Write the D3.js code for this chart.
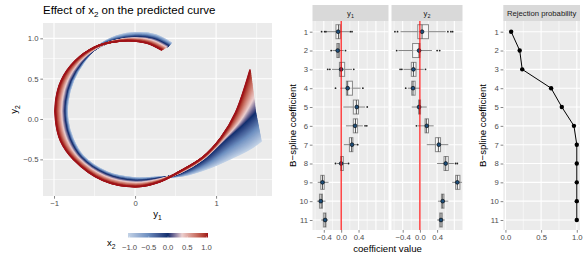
<!DOCTYPE html>
<html>
<head>
<meta charset="utf-8">
<script src="https://d3js.org/d3.v7.min.js"></script>
<title>Effect of x2 and B-spline coefficients</title>
<style>
body { margin: 0; background: #fff; }
#root { font-family: "Liberation Sans", Arial, sans-serif; }
</style>
</head>
<body>
<svg id="root" width="585" height="260"></svg>

<script>
// predicted curves (y1, y2), for x2 = -1, 0 and 1
let curveLow = [
	[0.45, 0.94], [0.26, 1.04], [0.04, 1.07], [-0.22, 1.03], [-0.46, 0.90], [-0.63, 0.71],
	[-0.76, 0.48], [-0.83, 0.22], [-0.83, -0.02], [-0.77, -0.24], [-0.64, -0.46], [-0.34, -0.66],
	[0.0, -0.73], [0.30, -0.72], [0.60, -0.70], [0.93, -0.60], [1.20, -0.48], [1.42, -0.37], [1.56, -0.27]
]
let curveMid = [
	[0.41, 0.90], [0.22, 0.99], [0.0, 1.01], [-0.25, 0.97], [-0.47, 0.88], [-0.66, 0.71],
	[-0.80, 0.48], [-0.87, 0.22], [-0.87, -0.02], [-0.81, -0.25], [-0.67, -0.48], [-0.36, -0.69],
	[0.0, -0.77], [0.30, -0.74], [0.55, -0.67], [0.84, -0.50], [1.10, -0.26], [1.32, -0.07], [1.49, 0.09]
]
let curveHigh = [
	[0.33, 0.855], [0.15, 0.94], [-0.08, 0.97], [-0.30, 0.95], [-0.50, 0.89], [-0.74, 0.72],
	[-0.91, 0.48], [-0.98, 0.22], [-0.98, -0.02], [-0.92, -0.27], [-0.76, -0.50], [-0.40, -0.76],
	[0.0, -0.84], [0.30, -0.78], [0.55, -0.65], [0.84, -0.47], [1.06, -0.23], [1.24, 0.08], [1.42, 0.615]
]
let legendTicks = [-1, -0.5, 0, 0.5, 1]

// boxplots of estimated B-spline coefficients
let coefs = [1, 2, 3, 4, 5, 6, 7, 8, 9, 10, 11]

let y1Lo  = [-0.33, -0.20, -0.21, -0.02, 0.05, 0.11, 0.06, -0.10, -0.54, -0.56, -0.46]
let y1Q1  = [-0.12, -0.10, -0.04, 0.12, 0.28, 0.28, 0.19, -0.01, -0.47, -0.50, -0.41]
let y1Med = [-0.06, -0.07, 0.00, 0.15, 0.35, 0.33, 0.24, 0.01, -0.43, -0.46, -0.37]
let y1Q3  = [-0.02, -0.04, 0.08, 0.26, 0.40, 0.38, 0.27, 0.05, -0.39, -0.43, -0.35]
let y1Hi  = [0.18, 0.06, 0.25, 0.45, 0.55, 0.50, 0.36, 0.15, -0.29, -0.36, -0.30]
let y1Out = [[-0.45, -0.38, -0.35, 0.21, 0.25], [-0.23, 0.10], [-0.31, -0.26, 0.29], [-0.13, 0.50], [0.60],
	[0.55, 0.59], [0.38], [-0.13, 0.17], [], [], []]
let y1Est = [-0.07, -0.08, 0.00, 0.15, 0.36, 0.32, 0.25, 0.00, -0.43, -0.47, -0.37]

let y2Lo  = [-0.45, -0.50, -0.38, -0.28, -0.19, -0.05, 0.16, 0.40, 0.75, 0.42, 0.40]
let y2Q1  = [-0.05, -0.17, -0.20, -0.19, -0.03, 0.12, 0.36, 0.56, 0.83, 0.50, 0.46]
let y2Med = [0.05, -0.02, -0.15, -0.16, -0.01, 0.15, 0.43, 0.60, 0.87, 0.53, 0.49]
let y2Q3  = [0.20, 0.00, -0.09, -0.11, 0.015, 0.20, 0.48, 0.66, 0.93, 0.56, 0.52]
let y2Hi  = [0.60, 0.28, 0.09, 0.00, 0.16, 0.32, 0.66, 0.79, 0.98, 0.66, 0.58]
let y2Out = [[-0.58, -0.52, 0.65, 0.72, 0.76], [-0.54, 0.40, 0.46], [-0.46, -0.42, 0.13], [-0.33], [],
	[-0.08], [], [0.83, 0.87], [], [], []]
let y2Est = [0.05, -0.02, -0.15, -0.16, -0.02, 0.16, 0.44, 0.60, 0.87, 0.53, 0.49]

let rejection = [0.08, 0.20, 0.235, 0.64, 0.79, 0.96, 1.0, 1.0, 1.0, 1.0, 1.0]

const svg = d3.select('#root')
const fmt1 = d3.format('.1f')

function richText(g, x, y, size, parts, anchor, rotate)
{
	let t = g.append('text').attr('x', x).attr('y', y)
		.style('font-size', size + 'px').attr('text-anchor', anchor || 'start').attr('fill', '#000')
	if (rotate) t.attr('transform', 'rotate(-90,' + x + ',' + y + ')')
	let shift = 0
	parts.forEach(p => {
		let target = p[1] ? size * 0.3 : 0
		t.append('tspan').attr('dy', target - shift)
			.style('font-size', (p[1] ? size * 0.7 : size) + 'px').text(p[0])
		shift = target
	})
	return t
}

function styleAxis(g, size)
{
	g.select('.domain').remove()
	g.selectAll('.tick line').attr('stroke', '#333').attr('stroke-width', 0.6)
	g.selectAll('.tick text').attr('fill', '#4d4d4d').style('font-size', (size || 7.7) + 'px')
		.style('font-family', '"Liberation Sans", Arial, sans-serif')
}

function gridLines(g, scale, values, x0, x1, vertical, width)
{
	values.forEach(v => {
		let p = scale(v)
		let l = g.append('line').attr('stroke', '#fff').attr('stroke-width', width)
		if (vertical) l.attr('x1', p).attr('x2', p).attr('y1', x0).attr('y2', x1)
		else l.attr('y1', p).attr('y2', p).attr('x1', x0).attr('x2', x1)
	})
}

// ---------- left: effect of x2 on the predicted curve ----------
const L = {x0: 43, x1: 272, y0: 23, y1: 196}
const lx = d3.scaleLinear().domain([-1.136, 1.69]).range([L.x0, L.x1])
const ly = d3.scaleLinear().domain([-0.954, 1.19]).range([L.y1, L.y0])

let left = svg.append('g')
left.append('rect').attr('x', L.x0).attr('y', L.y0).attr('width', L.x1 - L.x0).attr('height', L.y1 - L.y0).attr('fill', '#ebebeb')
gridLines(left, lx, [-0.5, 0.5, 1.5], L.y0, L.y1, true, 0.55)
gridLines(left, ly, [-0.75, -0.25, 0.25, 0.75], L.x0, L.x1, false, 0.55)
gridLines(left, lx, [-1, 0, 1], L.y0, L.y1, true, 1.1)
gridLines(left, ly, [-0.5, 0, 0.5, 1], L.x0, L.x1, false, 1.1)

const colour = d3.scaleLinear().domain([-1, -0.5, 0, 0.35, 1])
	.range(['#c3d3e7', '#6d8fc0', '#0f2f6e', '#ecd0d0', '#9f1118']).interpolate(d3.interpolateLab)

const curveLine = d3.line().x(d => lx(d[0])).y(d => ly(d[1])).curve(d3.curveCatmullRom.alpha(0.5))
const lowToMid = d3.interpolate(curveLow, curveMid)
const midToHigh = d3.interpolate(curveMid, curveHigh)

let x2Grid = d3.range(0, 101).map(i => -1 + i * 0.02)
left.append('g').selectAll('path').data(x2Grid).join('path')
	.attr('d', v => curveLine(v <= 0 ? lowToMid(v + 1) : midToHigh(v)))
	.attr('fill', 'none').attr('stroke', v => colour(v)).attr('stroke-width', 1.6)

let lax = left.append('g').attr('transform', 'translate(0,' + L.y1 + ')')
	.call(d3.axisBottom(lx).tickValues([-1, 0, 1]).tickFormat(d3.format('d')).tickSize(2.7).tickPadding(1.8))
styleAxis(lax)
let lay = left.append('g').attr('transform', 'translate(' + L.x0 + ',0)')
	.call(d3.axisLeft(ly).tickValues([-0.5, 0, 0.5, 1]).tickFormat(fmt1).tickSize(2.7).tickPadding(1.8))
styleAxis(lay)

richText(left, L.x0, 14, 11.5, [['Effect of x', false], ['2', true], [' on the predicted curve', false]])
richText(left, (L.x0 + L.x1) / 2, 217, 9.6, [['y', false], ['1', true]], 'middle')
richText(left, 17, (L.y0 + L.y1) / 2, 9.6, [['y', false], ['2', true]], 'middle', true)

// colour bar legend
const legX = d3.scaleLinear().domain([-1, 1]).range([129.5, 206.5])
let defs = svg.append('defs')
let grad = defs.append('linearGradient').attr('id', 'x2grad')
d3.range(0, 41).map(i => -1 + i * 0.05).forEach(v => {
	grad.append('stop').attr('offset', ((v + 1) / 2 * 100) + '%').attr('stop-color', colour(v))
})
left.append('rect').attr('x', 128).attr('y', 233).attr('width', 80).attr('height', 4.5).attr('fill', 'url(#x2grad)')
left.append('g').selectAll('line').data(legendTicks).join('line')
	.attr('x1', d => legX(d)).attr('x2', d => legX(d)).attr('y1', 236.5).attr('y2', 237.5)
	.attr('stroke', '#fff').attr('stroke-width', 0.5)
left.append('g').selectAll('text').data(legendTicks).join('text')
	.attr('x', d => legX(d)).attr('y', 249.5).attr('text-anchor', 'middle')
	.attr('fill', '#4d4d4d').style('font-size', '7.7px').text(d => fmt1(d))
richText(left, 107, 246, 9.6, [['x', false], ['2', true]])

// ---------- middle: boxplots of coefficients ----------
const P = {y0: 21, y1: 230}
const rowY = d3.scalePoint().domain(coefs).range([31.7, 220])
let panels = [
	{name: '1', x0: 312.5, x1: 388.5, dom: [-0.66, 1.09], lo: y1Lo, q1: y1Q1, med: y1Med, q3: y1Q3, hi: y1Hi, out: y1Out, est: y1Est},
	{name: '2', x0: 391.5, x1: 462.5, dom: [-0.66, 0.99], lo: y2Lo, q1: y2Q1, med: y2Med, q3: y2Q3, hi: y2Hi, out: y2Out, est: y2Est}
]

panels.forEach(p => {
	let g = svg.append('g')
	let x = d3.scaleLinear().domain(p.dom).range([p.x0, p.x1])
	g.append('rect').attr('x', p.x0).attr('y', P.y0).attr('width', p.x1 - p.x0).attr('height', P.y1 - P.y0).attr('fill', '#ebebeb')
	g.append('rect').attr('x', p.x0).attr('y', 5).attr('width', p.x1 - p.x0).attr('height', 16).attr('fill', '#d9d9d9')
	let st = richText(g, (p.x0 + p.x1) / 2, 16, 7.7, [['y', false], [p.name, true]], 'middle')
	st.attr('fill', '#1a1a1a')
	gridLines(g, x, [-0.6, -0.2, 0.2, 0.6, 1.0].filter(v => v <= p.dom[1]), P.y0, P.y1, true, 0.55)
	gridLines(g, x, [-0.4, 0, 0.4, 0.8], P.y0, P.y1, true, 1.1)
	gridLines(g, rowY, coefs, p.x0, p.x1, false, 1.1)

	let rows = g.append('g').selectAll('g').data(coefs).join('g')
		.attr('transform', d => 'translate(0,' + rowY(d) + ')')
	rows.append('line').attr('x1', (d, i) => x(p.lo[i])).attr('x2', (d, i) => x(p.hi[i]))
		.attr('stroke', '#333').attr('stroke-width', 0.6)
	rows.append('rect').attr('x', (d, i) => x(p.q1[i])).attr('y', -7)
		.attr('width', (d, i) => x(p.q3[i]) - x(p.q1[i])).attr('height', 14)
		.attr('fill', '#fff').attr('fill-opacity', 0.55).attr('stroke', '#8a8a8a').attr('stroke-width', 1)
	rows.append('line').attr('x1', (d, i) => x(p.med[i])).attr('x2', (d, i) => x(p.med[i]))
		.attr('y1', -7).attr('y2', 7).attr('stroke', '#333').attr('stroke-width', 0.8)
	rows.each(function(d, i) {
		d3.select(this).selectAll('circle.out').data(p.out[i]).join('circle').attr('class', 'out')
			.attr('cx', v => x(v)).attr('cy', 0).attr('r', 0.9).attr('fill', '#222')
	})
	rows.append('circle').attr('cx', (d, i) => x(p.est[i])).attr('cy', 0).attr('r', 1.9)
		.attr('fill', '#1d4e7a').attr('stroke', '#000').attr('stroke-width', 0.6)

	g.append('line').attr('x1', x(0)).attr('x2', x(0)).attr('y1', P.y0).attr('y2', P.y1)
		.attr('stroke', '#ff0000').attr('stroke-width', 1.1)

	let ax = g.append('g').attr('transform', 'translate(0,' + P.y1 + ')')
		.call(d3.axisBottom(x).tickValues([-0.4, 0, 0.4]).tickFormat(fmt1).tickSize(2.7).tickPadding(1.8))
	styleAxis(ax)
})

let may = svg.append('g').attr('transform', 'translate(312.5,0)')
	.call(d3.axisLeft(rowY).tickSize(2.7).tickPadding(1.8))
styleAxis(may)
svg.append('text').attr('x', 387.5).attr('y', 252).attr('text-anchor', 'middle')
	.style('font-size', '9.6px').text('coefficient value')
svg.append('text').attr('transform', 'translate(296,125.5) rotate(-90)').attr('text-anchor', 'middle')
	.style('font-size', '9.6px').text('B\u2212spline coefficient')

// ---------- right: rejection probability ----------
const R = {x0: 503.3, x1: 580}
const rx = d3.scaleLinear().domain([-0.03, 1.045]).range([R.x0, R.x1])
let right = svg.append('g')
right.append('rect').attr('x', R.x0).attr('y', P.y0).attr('width', R.x1 - R.x0).attr('height', P.y1 - P.y0).attr('fill', '#ebebeb')
right.append('rect').attr('x', R.x0).attr('y', 5).attr('width', R.x1 - R.x0).attr('height', 16).attr('fill', '#d9d9d9')
right.append('text').attr('x', (R.x0 + R.x1) / 2).attr('y', 16).attr('text-anchor', 'middle')
	.attr('fill', '#1a1a1a').style('font-size', '7.7px').text('Rejection probability')
gridLines(right, rx, [0.25, 0.75], P.y0, P.y1, true, 0.55)
gridLines(right, rx, [0, 0.5, 1], P.y0, P.y1, true, 1.1)
gridLines(right, rowY, coefs, R.x0, R.x1, false, 1.1)

right.append('path').datum(rejection)
	.attr('d', d3.line().x(d => rx(d)).y((d, i) => rowY(coefs[i])))
	.attr('fill', 'none').attr('stroke', '#000').attr('stroke-width', 1)
right.append('g').selectAll('circle').data(rejection).join('circle')
	.attr('cx', d => rx(d)).attr('cy', (d, i) => rowY(coefs[i])).attr('r', 2.2).attr('fill', '#000')

let rax = right.append('g').attr('transform', 'translate(0,' + P.y1 + ')')
	.call(d3.axisBottom(rx).tickValues([0, 0.5, 1]).tickFormat(fmt1).tickSize(2.7).tickPadding(1.8))
styleAxis(rax)
let ray = right.append('g').attr('transform', 'translate(' + R.x0 + ',0)')
	.call(d3.axisLeft(rowY).tickSize(2.7).tickPadding(1.8))
styleAxis(ray)
right.append('text').attr('transform', 'translate(486,125.5) rotate(-90)').attr('text-anchor', 'middle')
	.style('font-size', '9.6px').text('B\u2212spline coefficient')
</script>
</body>
</html>
